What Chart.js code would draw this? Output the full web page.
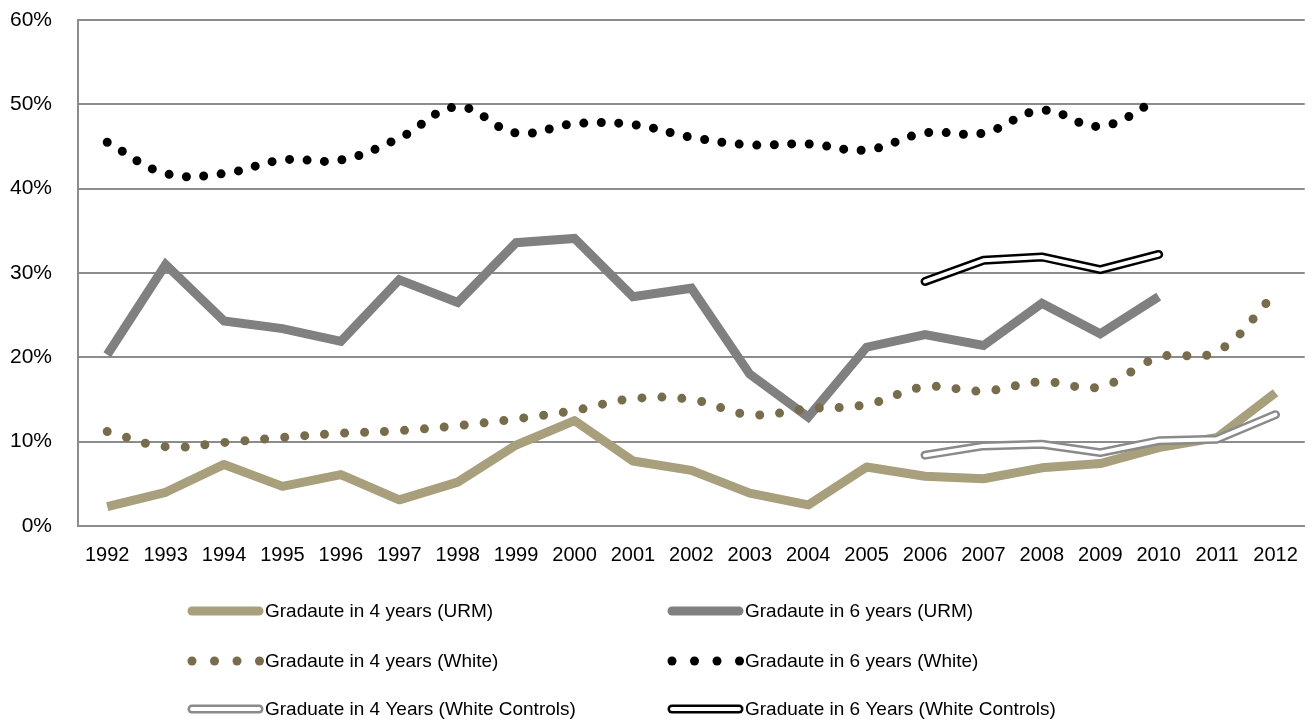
<!DOCTYPE html>
<html lang="en">
<head>
<meta charset="UTF-8">
<meta name="viewport" content="width=device-width, initial-scale=1.0">
<title>Graduation rates by cohort</title>
<script src="https://cdn.jsdelivr.net/npm/chart.js"></script>
<style>
    html, body { margin: 0; padding: 0; background: #fff; }
    #wrap { width: 1315px; height: 720px; }
</style>
</head>
<body>
<div id="wrap"><canvas id="gradChart"></canvas></div>
<script>
    // cohort years
    const years = ['1992', '1993', '1994', '1995', '1996', '1997', '1998', '1999', '2000', '2001',
                   '2002', '2003', '2004', '2005', '2006', '2007', '2008', '2009', '2010', '2011', '2012'];

    // percentages
    const urm4yr = [2.3, 4.0, 7.3, 4.7, 6.1, 3.1, 5.2, 9.6, 12.5, 7.7, 6.6, 3.9, 2.5, 7.0, 5.9, 5.6, 6.9, 7.4, 9.3, 10.5, 15.8];
    const urm6yr = [20.3, 31.0, 24.3, 23.4, 21.9, 29.2, 26.5, 33.6, 34.1, 27.2, 28.2, 18.0, 12.9, 21.2, 22.7, 21.4, 26.4, 22.8, 27.2, null, null];
    const white4yr = [11.2, 9.4, 9.9, 10.5, 11.0, 11.3, 11.9, 12.7, 13.7, 15.1, 15.0, 13.2, 13.9, 14.4, 16.5, 16.0, 17.1, 16.5, 20.0, 20.7, 27.6];
    const white6yr = [45.5, 41.8, 41.8, 43.4, 43.4, 46.0, 49.7, 46.6, 47.7, 47.6, 46.1, 45.2, 45.3, 44.6, 46.6, 46.6, 49.3, 47.4, 50.6, null, null];
    const controls4yr = [null, null, null, null, null, null, null, null, null, null, null, null, null, null, 8.4, 9.5, 9.7, 8.7, 10.1, 10.3, 13.2];
    const controls6yr = [null, null, null, null, null, null, null, null, null, null, null, null, null, null, 29.0, 31.5, 31.9, 30.4, 32.2, null, null];

    const yTicks = [0, 10, 20, 30, 40, 50, 60];

    const TAN = '#a89f7c';
    const GRAY = '#808080';
    const OLIVE = '#776c4c';
    const CTRL_GRAY = '#8a8a8a';
    const GRID = '#8c8c8c';
    const FONT = '"Liberation Sans", Arial, sans-serif';

    const legendDefs = [
        { label: 'Gradaute in 4 years (URM)', kind: 'solid', color: TAN },
        { label: 'Gradaute in 6 years (URM)', kind: 'solid', color: GRAY },
        { label: 'Gradaute in 4 years (White)', kind: 'dots', color: OLIVE },
        { label: 'Gradaute in 6 years (White)', kind: 'dots', color: '#000' },
        { label: 'Graduate in 4 Years (White Controls)', kind: 'double', color: CTRL_GRAY },
        { label: 'Graduate in 6 Years (White Controls)', kind: 'double', color: '#000' }
    ];

    // hand-drawn legend, two columns by three rows like the original
    const customLegend = {
        id: 'customLegend',
        afterDraw(chart) {
            const ctx = chart.ctx;
            const colX = [189, 669];
            const rowY = [611, 661, 709];
            ctx.save();
            ctx.font = '19px ' + FONT;
            ctx.textBaseline = 'middle';
            legendDefs.forEach((item, i) => {
                const x = colX[i % 2];
                const y = rowY[Math.floor(i / 2)];
                if (item.kind === 'solid') {
                    ctx.strokeStyle = item.color;
                    ctx.lineWidth = 9;
                    ctx.lineCap = 'round';
                    ctx.beginPath();
                    ctx.moveTo(x + 3, y);
                    ctx.lineTo(x + 70, y);
                    ctx.stroke();
                } else if (item.kind === 'dots') {
                    ctx.fillStyle = item.color;
                    for (let k = 0; k < 4; k++) {
                        ctx.beginPath();
                        ctx.arc(x + 3 + k * 22.5, y, 4.5, 0, Math.PI * 2);
                        ctx.fill();
                    }
                } else {
                    ctx.lineCap = 'round';
                    ctx.strokeStyle = item.color;
                    ctx.lineWidth = 9;
                    ctx.beginPath();
                    ctx.moveTo(x + 3, y);
                    ctx.lineTo(x + 70, y);
                    ctx.stroke();
                    ctx.strokeStyle = '#fff';
                    ctx.lineWidth = 4;
                    ctx.beginPath();
                    ctx.moveTo(x + 3, y);
                    ctx.lineTo(x + 70, y);
                    ctx.stroke();
                }
                ctx.fillStyle = '#000';
                ctx.fillText(item.label, x + 76, y + 1);
            });
            ctx.restore();
        }
    };

    const ctx = document.getElementById('gradChart').getContext('2d');
    const chart = new Chart(ctx, {
        type: 'line',
        data: {
            labels: years,
            datasets: [
                {
                    label: 'Gradaute in 4 years (URM)',
                    data: urm4yr,
                    borderColor: TAN,
                    borderWidth: 9,
                    borderJoinStyle: 'round',
                    borderCapStyle: 'butt',
                    order: 4
                },
                {
                    label: 'Gradaute in 6 years (URM)',
                    data: urm6yr,
                    borderColor: GRAY,
                    borderWidth: 9,
                    borderJoinStyle: 'miter',
                    borderCapStyle: 'butt',
                    order: 5
                },
                {
                    label: 'Gradaute in 4 years (White)',
                    data: white4yr,
                    borderColor: OLIVE,
                    borderWidth: 9,
                    borderDash: [0, 20],
                    borderCapStyle: 'round',
                    tension: 0.4,
                    order: 2
                },
                {
                    label: 'Gradaute in 6 years (White)',
                    data: white6yr,
                    borderColor: '#000',
                    borderWidth: 9,
                    borderDash: [0, 17.5],
                    borderCapStyle: 'round',
                    tension: 0.4,
                    order: 3
                },
                {
                    label: 'Graduate in 4 Years (White Controls)',
                    data: controls4yr,
                    borderColor: CTRL_GRAY,
                    borderWidth: 9,
                    borderCapStyle: 'round',
                    borderJoinStyle: 'round',
                    order: 1
                },
                {
                    label: 'Graduate in 6 Years (White Controls)',
                    data: controls6yr,
                    borderColor: '#000',
                    borderWidth: 9,
                    borderCapStyle: 'round',
                    borderJoinStyle: 'round',
                    order: 1
                },
                // white centre strokes that turn the controls into double lines
                {
                    label: 'controls4-inner',
                    data: controls4yr,
                    borderColor: '#fff',
                    borderWidth: 4,
                    borderCapStyle: 'round',
                    borderJoinStyle: 'round',
                    order: 0
                },
                {
                    label: 'controls6-inner',
                    data: controls6yr,
                    borderColor: '#fff',
                    borderWidth: 4,
                    borderCapStyle: 'round',
                    borderJoinStyle: 'round',
                    order: 0
                }
            ]
        },
        options: {
            responsive: true,
            maintainAspectRatio: false,
            animation: false,
            layout: { padding: { top: 20, right: 10, left: 0, bottom: 0 } },
            elements: {
                point: { radius: 0, hoverRadius: 0 },
                line: { fill: false }
            },
            plugins: {
                legend: { display: false },
                tooltip: { enabled: false }
            },
            scales: {
                x: {
                    offset: true,
                    grid: { display: true, color: 'rgba(0,0,0,0)', drawTicks: false },
                    border: { display: true, color: GRID, width: 2 },
                    ticks: {
                        color: '#000',
                        padding: 17,
                        maxRotation: 0,
                        autoSkip: false,
                        font: { family: FONT, size: 20 }
                    },
                    afterFit(scale) { scale.height = 194; }
                },
                y: {
                    min: 0,
                    max: 60,
                    afterBuildTicks(scale) { scale.ticks = yTicks.map(v => ({ value: v })); },
                    grid: { color: GRID, lineWidth: 2, drawTicks: false },
                    border: { display: true, color: GRID, width: 2 },
                    ticks: {
                        color: '#000',
                        padding: 26,
                        font: { family: FONT, size: 21 },
                        callback: v => v + '%'
                    },
                    afterFit(scale) {
                        scale.width = 78;
                        // label padding would otherwise push the plot top down
                        scale.paddingTop = 0;
                        scale.paddingBottom = 0;
                    }
                }
            }
        },
        plugins: [customLegend]
    });
</script>
</body>
</html>
